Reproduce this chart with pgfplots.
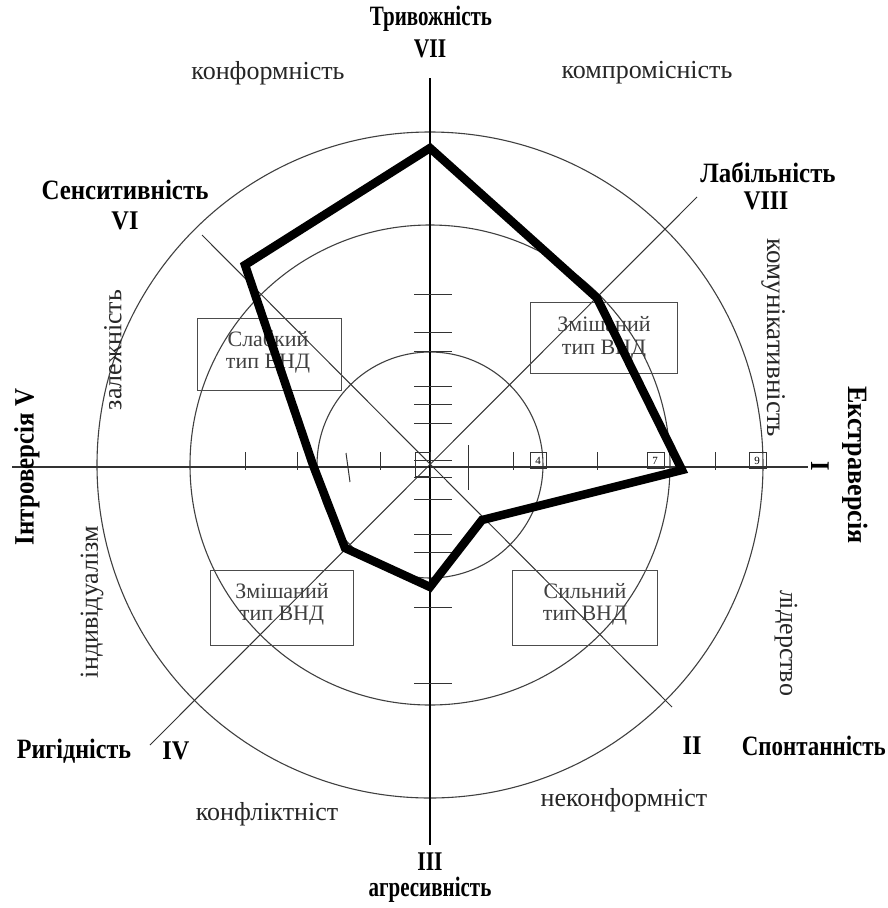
\documentclass[border=0pt]{standalone}
\usepackage{graphicx}
\usepackage{pgfplots}
\pgfplotsset{compat=1.18}
\usepackage{fontspec}
\setmainfont{Liberation Serif}
\newcommand\fs[1]{\fontsize{#1}{#1}\selectfont}
\newcommand\bl[3]{{\fs{#1}\bfseries\scalebox{#2}[1]{#3}}}
\begin{document}
\begin{tikzpicture}
\begin{axis}[x=1pt,y=1pt,xmin=0,xmax=888,ymin=0,ymax=908,y dir=reverse,
  hide axis,clip=false,anchor=south west,at={(0,0)}]
% circles
\draw[line width=1.1pt,black!75] (axis cs:430,465) circle[radius=113];
\draw[line width=1.1pt,black!75] (axis cs:430,465) circle[radius=240];
\draw[line width=1.1pt,black!75] (axis cs:430,465) circle[radius=333];
% axes
\addplot[black!80,line width=1.1pt] coordinates {(12,467) (808,467)};
\addplot[black,line width=1.1pt] coordinates {(430,78) (430,845)};
\addplot[black!80,line width=1pt] coordinates {(697,197) (150,745)};
\addplot[black!80,line width=1pt] coordinates {(202,235) (672,707)};
% ticks on vertical axis
\foreach \t in {294,332,351,386,404,423,460,477,499,534,552,607,683}{
  \edef\tmp{\noexpand\addplot[black!80,line width=1pt] coordinates {(414,\t) (452,\t)};}\tmp
}
% ticks on horizontal axis
\foreach \t in {245,297,380,513,597,715}{
  \edef\tmp{\noexpand\addplot[black!80,line width=1pt] coordinates {(\t,452) (\t,470)};}\tmp
}
\addplot[black!80,line width=1pt] coordinates {(346,453) (350,482)};
\addplot[black!80,line width=1pt] coordinates {(468,445) (468,490)};
% small boxes on the scale
\draw[black!80,line width=0.9pt] (axis cs:415,452) rectangle (axis cs:430,476);
\draw[black!80,line width=0.9pt] (axis cs:530,452) rectangle (axis cs:546,468);
\draw[black!80,line width=0.9pt] (axis cs:647,452) rectangle (axis cs:664,468);
\draw[black!80,line width=0.9pt] (axis cs:749,452) rectangle (axis cs:766,468);
\node[font=\fs{11}] at (axis cs:538,461) {4};
\node[font=\fs{11}] at (axis cs:655,461) {7};
\node[font=\fs{11}] at (axis cs:757,461) {9};
% type boxes
\draw[black!70,line width=1pt] (axis cs:197,318) rectangle (axis cs:341,390);
\draw[black!70,line width=1pt] (axis cs:530,302) rectangle (axis cs:677,373);
\draw[black!70,line width=1pt] (axis cs:210,570) rectangle (axis cs:353,645);
\draw[black!70,line width=1pt] (axis cs:512,570) rectangle (axis cs:657,645);
\begin{scope}[every node/.style={font=\fs{22},text=black!75}]
\node at (axis cs:268,339) {Слабкий};
\node at (axis cs:268,364) {тип ВНД};
\node at (axis cs:604,324) {Змішаний};
\node at (axis cs:604,350) {тип ВНД};
\node at (axis cs:282,591) {Змішаний};
\node at (axis cs:282,616) {тип ВНД};
\node at (axis cs:585,591) {Сильний};
\node at (axis cs:585,616) {тип ВНД};
\end{scope}
% profile polygon
\addplot[black,line width=8.5pt,line join=miter] coordinates {
 (430,148) (597,298) (682,470) (482,520) (430,587) (345,548) (313,465) (245,265)
} -- cycle;
% bold pole labels
\node at (axis cs:431,19) {\bl{28}{0.75}{Тривожність}};
\node at (axis cs:430,49) {\bl{27}{0.8}{VII}};
\node at (axis cs:125,190) {\bl{28}{0.89}{Сенситивність}};
\node at (axis cs:125,221) {\bl{27}{0.9}{VI}};
\node at (axis cs:768,173) {\bl{28}{0.89}{Лабільність}};
\node at (axis cs:766,201) {\bl{27}{0.88}{VIII}};
\node[rotate=90] at (axis cs:27,467) {\bl{28}{0.89}{Інтроверсія V}};
\node[rotate=-90] at (axis cs:855,465) {\bl{28}{0.93}{Екстраверсія}};
\node[rotate=-90] at (axis cs:820,466) {\bl{27}{0.9}{I}};
\node at (axis cs:74,751) {\bl{28}{0.86}{Ригідність}};
\node at (axis cs:176,751) {\bl{27}{0.9}{IV}};
\node at (axis cs:692,746) {\bl{27}{0.9}{II}};
\node[anchor=east,inner sep=1pt] at (axis cs:887,746) {\bl{28}{0.82}{Спонтанність}};
\node at (axis cs:430,862) {\bl{27}{0.8}{III}};
\node at (axis cs:430,890) {\bl{28}{0.75}{агресивність}};
% regular labels
\begin{scope}[every node/.style={font=\fs{26},text=black!85}]
\node at (axis cs:268,73) {конформність};
\node at (axis cs:647,73) {компромісність};
\node[rotate=90] at (axis cs:113,350) {залежність};
\node[font=\fs{27},rotate=-90] at (axis cs:774,338) {комунікативність};
\node[rotate=90] at (axis cs:92,602) {індивідуалізм};
\node[rotate=-90] at (axis cs:786,643) {лідерство};
\node at (axis cs:267,814) {конфліктніст};
\node at (axis cs:624,800) {неконформніст};
\end{scope}
\end{axis}
\pgfresetboundingbox
\path (0,0) rectangle (888pt,908pt);
\end{tikzpicture}
\end{document}
